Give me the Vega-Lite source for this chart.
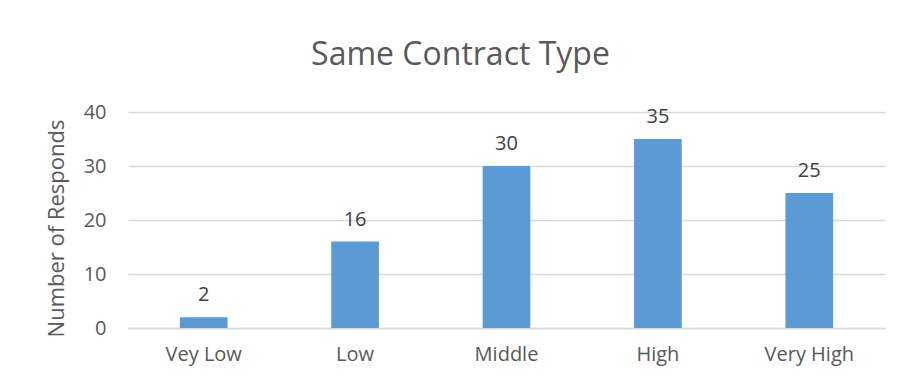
{
  "$schema": "https://vega.github.io/schema/vega-lite/v6.json",
  "autosize": {"type": "none"},
  "padding": {"left": 128, "top": 112, "right": 20, "bottom": 55},
  "width": 757,
  "height": 216,
  "background": "white",
  "title": {
    "text": "Same Contract Type",
    "font": "Open Sans",
    "fontSize": 32,
    "fontWeight": "normal",
    "color": "#595959",
    "anchor": "middle",
    "dx": -46,
    "offset": 30
  },
  "data": {
    "values": [
      {"level": "Vey Low", "responds": 2},
      {"level": "Low", "responds": 16},
      {"level": "Middle", "responds": 30},
      {"level": "High", "responds": 35},
      {"level": "Very High", "responds": 25}
    ]
  },
  "encoding": {
    "x": {
      "field": "level",
      "type": "nominal",
      "sort": null,
      "scale": {"paddingInner": 0.685, "paddingOuter": 0.3425},
      "axis": {
        "title": null,
        "labelAngle": 0,
        "labelFont": "Open Sans",
        "labelFontSize": 20,
        "labelColor": "#595959",
        "labelPadding": 16,
        "ticks": false,
        "domainColor": "#d9d9d9",
        "domainWidth": 1.5
      }
    },
    "y": {
      "field": "responds",
      "type": "quantitative",
      "scale": {"domain": [0, 40]},
      "axis": {
        "title": "Number of Responds",
        "titleFont": "Open Sans",
        "titleFontSize": 22,
        "titleFontWeight": "normal",
        "titleColor": "#595959",
        "titlePadding": 15,
        "titleY": 116,
        "values": [0, 10, 20, 30, 40],
        "labelOverlap": false,
        "labelFont": "Open Sans",
        "labelFontSize": 20,
        "labelColor": "#595959",
        "labelPadding": 22,
        "ticks": false,
        "domain": false,
        "gridColor": "#d9d9d9",
        "gridWidth": 1.5
      }
    }
  },
  "layer": [
    {"mark": {"type": "bar", "color": "#5B9BD5"}},
    {
      "mark": {
        "type": "text",
        "baseline": "bottom",
        "dy": -12,
        "font": "Open Sans",
        "fontSize": 20,
        "color": "#404040"
      },
      "encoding": {"text": {"field": "responds", "type": "quantitative"}}
    }
  ],
  "config": {"view": {"stroke": null}}
}
